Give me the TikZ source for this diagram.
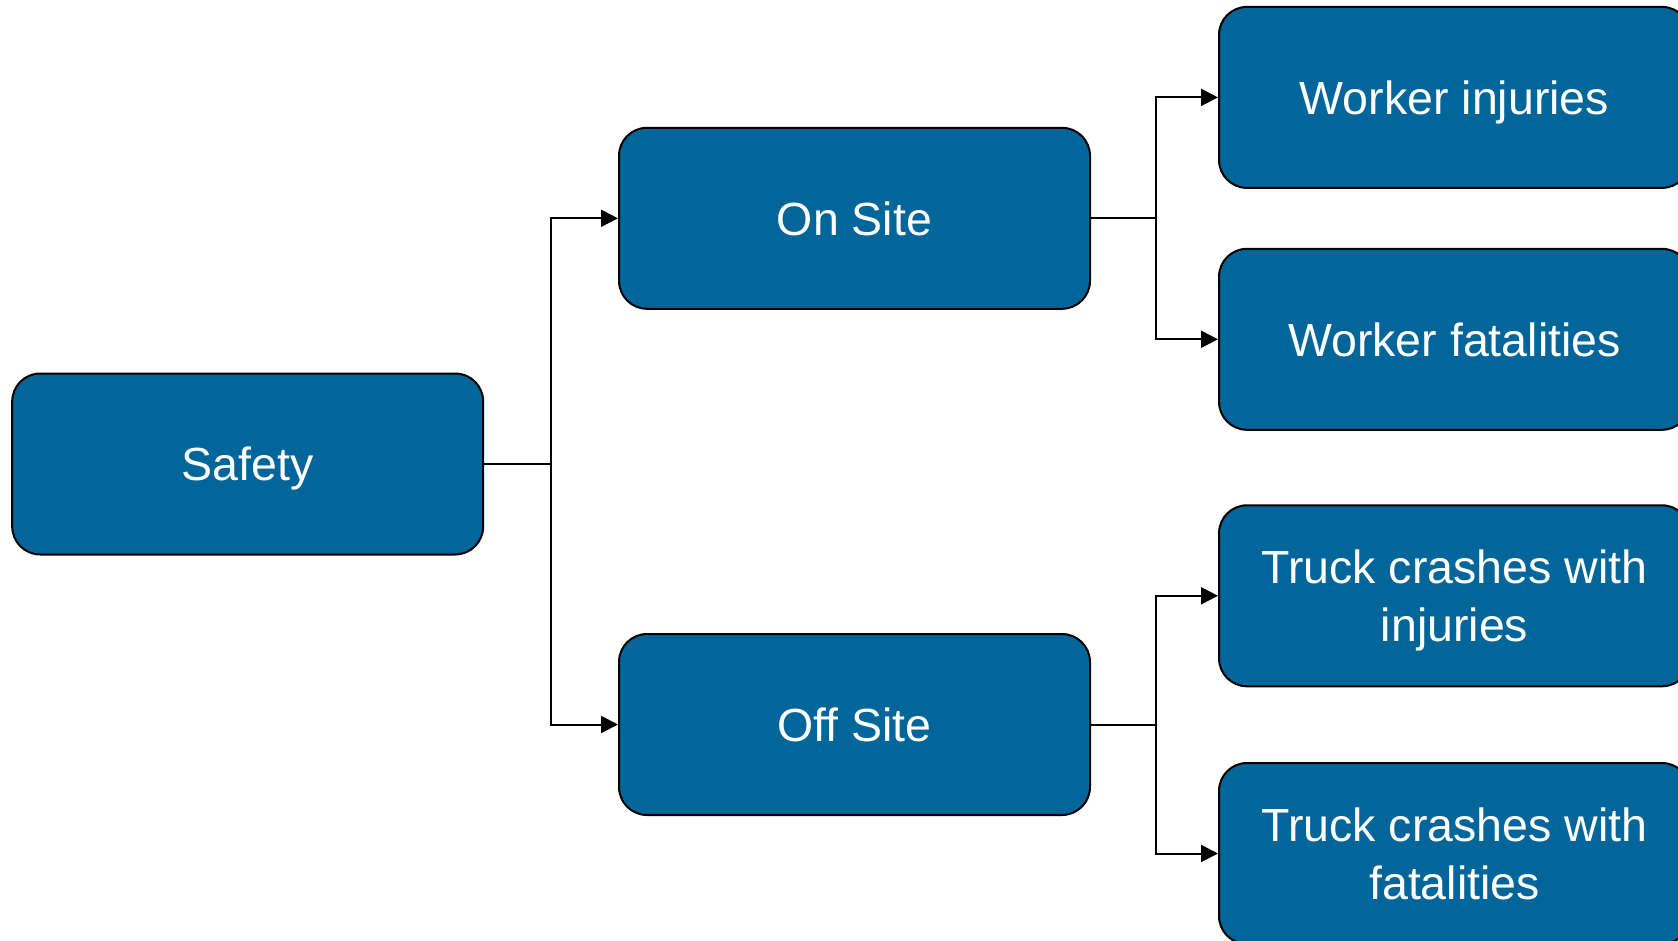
\documentclass[tikz,border=0pt]{standalone}
\usepackage{fontspec}
\setmainfont{Liberation Sans}
\usetikzlibrary{arrows.meta}
\definecolor{boxblue}{RGB}{2,102,154}
\tikzset{
  box/.style={draw=black, line width=2pt, fill=boxblue, rounded corners=28pt,
    minimum width=471pt, minimum height=181pt, inner sep=0pt, align=center,
    text=white, text depth=0pt, font=\fontsize{46.5}{57.5}\selectfont},
  conn/.style={draw=black, line width=2pt},
  arr/.style={conn, -{Triangle[length=17pt,width=17pt]}}
}
\begin{document}
\begin{tikzpicture}[x=1pt,y=-1pt]
\clip (0,0) rectangle (1678,941);
\fill[white] (0,0) rectangle (1678,941);
\node[box] (safety) at (247.7,464) {Safety};
\node[box] (on) at (854.5,218.3) {On Site};
\node[box] (off) at (854.5,724.5) {Off Site};
\node[box] (wi) at (1454.5,97.4) {Worker injuries};
\node[box] (wf) at (1454.5,339.3) {Worker fatalities};
\node[box] (ti) at (1454.5,595.8) {Truck crashes with\\injuries};
\node[box] (tf) at (1454.5,853.5) {Truck crashes with\\fatalities};
\coordinate (j1) at (551,464);
\coordinate (j2) at (1155.7,218.3);
\coordinate (j3) at (1155.7,724.5);
\draw[conn] (safety.east) -- (j1);
\draw[arr] (j1) |- (on.west);
\draw[arr] (j1) |- (off.west);
\draw[conn] (on.east) -- (j2);
\draw[arr] (j2) |- (wi.west);
\draw[arr] (j2) |- (wf.west);
\draw[conn] (off.east) -- (j3);
\draw[arr] (j3) |- (ti.west);
\draw[arr] (j3) |- (tf.west);
\end{tikzpicture}
\end{document}
